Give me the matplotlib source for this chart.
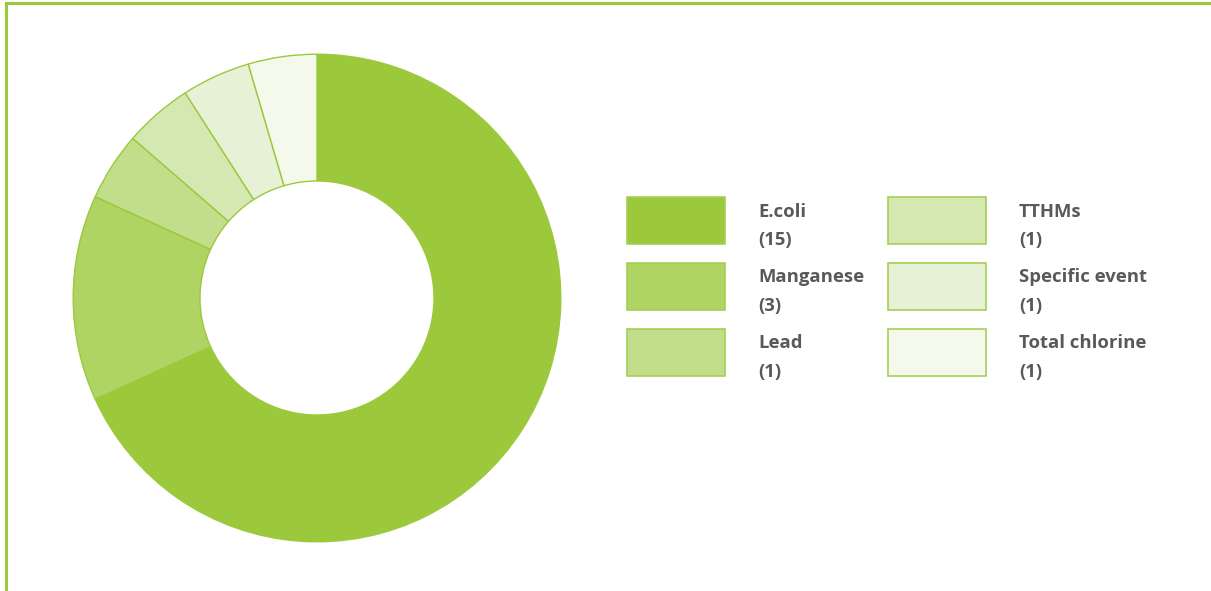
import matplotlib
matplotlib.use('Agg')
import matplotlib.pyplot as plt
from matplotlib.patches import Rectangle
from matplotlib.lines import Line2D

# Data
labels = ["E.coli", "Manganese", "Lead", "TTHMs", "Specific event", "Total chlorine"]
counts = [15, 3, 1, 1, 1, 1]
colors = ["#9bc93b", "#afd464", "#c2de8b", "#d5e8b1", "#e7f1d6", "#f4f9ec"]
edge_green = "#9bc93b"
text_gray = "#595959"

W, H = 1211, 591
fig = plt.figure(figsize=(W / 100, H / 100), dpi=100)

# green frame (top + left)
fig.add_artist(Line2D([6 / W, 1], [1 - 2.5 / H, 1 - 2.5 / H], color=edge_green, lw=2.2))
fig.add_artist(Line2D([6 / W, 6 / W], [0, 1 - 2.5 / H], color=edge_green, lw=2.2))

# donut
ax = fig.add_axes([72 / W, 48 / H, 490 / W, 490 / H])
ax.pie(counts, colors=colors, startangle=90, counterclock=False, radius=1,
       wedgeprops=dict(width=0.52, edgecolor=edge_green, linewidth=1))
ax.set_xlim(-1.005, 1.005)
ax.set_ylim(-1.005, 1.005)
ax.set_aspect('equal')
ax.axis('off')

# legend drawn by hand, two columns of three
col_x = [627, 888]
row_y = [197, 263, 329]
box_w, box_h = 98, 47
for i, (lab, n, c) in enumerate(zip(labels, counts, colors)):
    col, row = divmod(i, 3)
    x0 = col_x[col]
    y0 = row_y[row]
    fig.add_artist(Rectangle((x0 / W, 1 - (y0 + box_h) / H), box_w / W, box_h / H,
                             facecolor=c, edgecolor="#a6cf55", linewidth=1.2,
                             transform=fig.transFigure))
    tx = (x0 + 131) / W
    fig.text(tx, 1 - (y0 + 19.5) / H, lab, fontsize=13.3, fontweight='bold',
             color=text_gray, family='Open Sans', va='baseline', ha='left')
    fig.text(tx, 1 - (y0 + 48.5) / H, f"({n})", fontsize=13.3, fontweight='bold',
             color=text_gray, family='Open Sans', va='baseline', ha='left')

fig.savefig("out.png", dpi=100)
